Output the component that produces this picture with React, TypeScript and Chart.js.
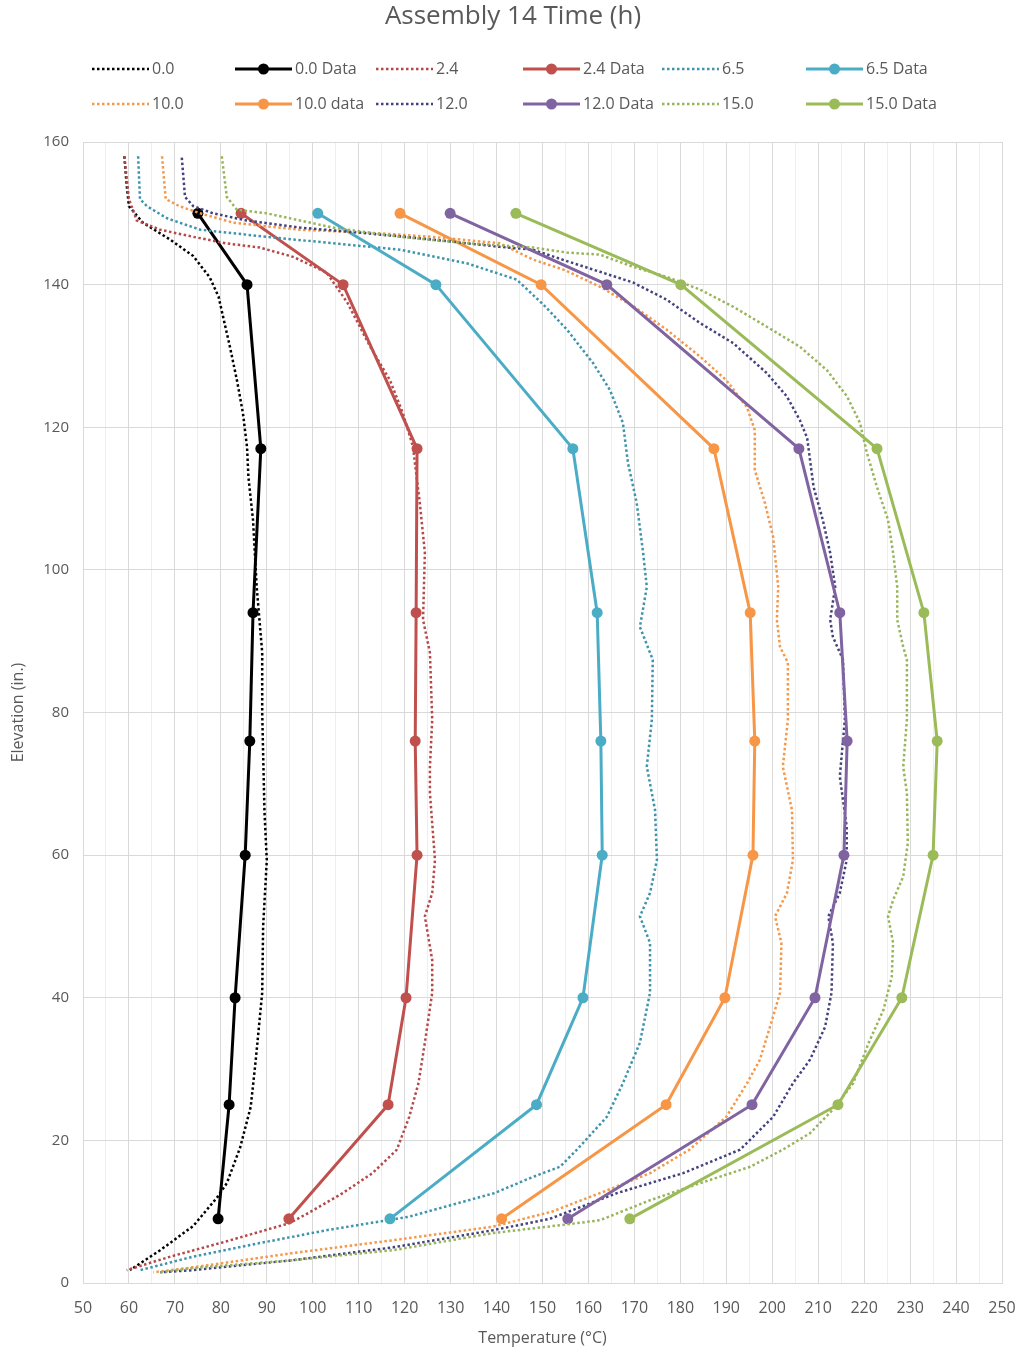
import React, { useEffect, useRef } from 'react';
import { Chart, registerables } from 'chart.js';

Chart.register(...registerables);

// ---------- Text ----------
const chartTitle = 'Assembly 14 Time (h)';
const xAxisTitle = 'Temperature (°C)';
const yAxisTitle = 'Elevation (in.)';

// ---------- Axis ranges / ticks ----------
const xMin = 50;
const xMax = 250;
const xStep = 5;
const xLabelEvery = 10;
const yMin = 0;
const yMax = 160;
const yStep = 20;

// ---------- Measured data (markers) ----------
const dataElevations = [150, 140, 117, 94, 76, 60, 40, 25, 9];
const data00 = [75.0, 85.7, 88.7, 87.0, 86.3, 85.3, 83.1, 81.8, 79.4];
const data24 = [84.4, 106.6, 122.7, 122.5, 122.3, 122.7, 120.3, 116.4, 94.8];
const data65 = [101.1, 126.8, 156.6, 161.9, 162.7, 163.0, 158.8, 148.7, 116.8];
const data100 = [119.0, 149.7, 187.3, 195.2, 196.2, 195.8, 189.7, 176.9, 141.1];
const data120 = [129.9, 164.0, 205.8, 214.7, 216.3, 215.6, 209.3, 195.6, 155.5];
const data150 = [144.2, 180.1, 222.8, 233.0, 235.9, 235.0, 228.2, 214.3, 169.0];

// ---------- Model profiles (dotted) ----------
const model00Elev = [158, 154, 151, 148.7, 146.3, 144, 141, 138.3, 134.6, 131.8, 126.6, 122, 117.2, 113, 107, 97.6, 88.4, 80, 74.3, 66, 59.3, 50, 40.7, 31.3, 24.7, 19, 14, 12, 8, 4.6, 1.8];
const model00Temp = [59, 59.5, 60, 63, 69, 74, 77.6, 79.5, 80.8, 81.8, 83.5, 84.8, 85.7, 86, 87, 87.8, 89, 89, 89.2, 89.5, 90, 89.2, 89, 87.6, 86.5, 84.2, 81.3, 79.2, 74, 66.8, 60.2];

const model24Elev = [158, 152, 149, 147.7, 146.7, 145.8, 145.2, 143.9, 141.7, 137.5, 131.3, 126.6, 122, 117.3, 109.4, 102.4, 93, 88.4, 79, 72.4, 68.7, 59.3, 54.7, 51.4, 45.3, 40.7, 33.7, 28, 23.3, 18.7, 15.4, 12.6, 9.8, 8.4, 5.8, 3.7, 1.8];
const model24Temp = [59, 60, 61.7, 66.8, 74, 81, 88.5, 95.7, 103, 107.5, 112.5, 116.8, 119.6, 121.8, 123.3, 124.4, 124, 125.5, 126, 125.5, 125.5, 126.6, 126, 124.4, 126, 126, 124.4, 123, 121, 118.3, 113, 106.5, 99, 95, 81, 69, 59.5];

const model65Elev = [158, 152, 151, 149.3, 147.7, 146.7, 145.8, 144.9, 143, 140.7, 137, 133.7, 129, 125.2, 120.6, 115, 109.4, 102.4, 97.6, 92, 87.4, 79, 72.4, 66.3, 59.3, 54.7, 51.4, 47.7, 40.7, 33.7, 28, 23.3, 18.7, 16.3, 14.9, 12.6, 9.3, 7.4, 5.6, 3.7, 1.8];
const model65Temp = [62, 62.4, 63.9, 68.3, 75.5, 90, 104.4, 119, 133.5, 144.4, 150.5, 155.3, 161, 164.7, 167.5, 168.6, 170.5, 171.9, 172.7, 171.2, 174, 173.8, 172.7, 174.5, 174.9, 173.4, 171.2, 173.4, 173.4, 171.2, 167.5, 164, 157.5, 153.8, 148, 139.5, 121, 103, 88.5, 74, 62.4];

const model100Elev = [158, 152, 151, 150, 148.7, 147.7, 147.3, 146.7, 145.8, 143.5, 142, 139.7, 137, 133.7, 129.9, 126.6, 122.8, 119.6, 114, 109.4, 104.6, 97.6, 93, 89.2, 87, 79, 72.4, 66.3, 59.3, 54.7, 51.4, 47.7, 40.7, 35.9, 31.3, 28, 23.3, 18.7, 15.4, 12.6, 10, 7.9, 6, 4.2, 2.2, 1.5];
const model100Temp = [67.2, 68, 71, 75.5, 82.6, 97, 111.8, 126, 140.7, 148, 155, 162.5, 169.7, 177, 184.3, 190, 194.5, 196.2, 196.2, 198.4, 200.2, 201.3, 201, 201.7, 203.4, 203.4, 202.3, 204.3, 204.5, 203.2, 200.6, 202, 201.7, 199.5, 197.3, 194.5, 190, 182, 173.4, 162.5, 152, 139.2, 117.5, 95.7, 74, 65.3];

const model120Elev = [157.8, 152.3, 151, 150, 149, 148, 147.2, 146.3, 145.3, 144.9, 143.3, 141.8, 140.3, 137.9, 134.6, 131.8, 127.6, 124.3, 121, 118.5, 111.6, 107, 102.4, 97.6, 93, 90.6, 87.4, 79, 71, 64, 59.3, 54.7, 51.4, 47.7, 40.7, 35.9, 31.3, 28, 23.3, 18.7, 15.4, 12.6, 9, 7.4, 5, 3.2, 1.8, 1.5];
const model120Temp = [71.5, 72.2, 74, 78.3, 85.6, 97.2, 111.8, 126.2, 140.7, 147.9, 155.3, 162.5, 169.7, 177, 184.3, 191.5, 198.8, 203.2, 206, 207.6, 209, 211, 212.6, 213.7, 212.6, 213.2, 215.4, 215.8, 214.7, 216.2, 216.2, 214.7, 212.2, 213.2, 212.9, 211.5, 208.2, 204.5, 200.2, 193, 180.6, 166.2, 151.6, 139.2, 117.5, 95.7, 74, 66.8];

const model150Elev = [158, 152.3, 150.5, 150, 148, 146.7, 145.8, 145.2, 144.5, 144.2, 142.5, 141.1, 139.3, 136.9, 134.1, 131.3, 128, 124.3, 120.6, 116.4, 111.6, 107, 102.4, 97.6, 93, 89.2, 87.4, 79, 72.4, 68.7, 61.7, 57, 53.7, 51.4, 47.7, 42.9, 38.3, 33.7, 28, 24.3, 21, 18.7, 16.3, 14, 11.6, 8.8, 8.1, 7, 4.6, 3.2, 2.1, 1.5];
const model150Temp = [80.2, 81.3, 83.5, 90, 104.4, 119, 133.6, 147.9, 155.3, 162.5, 169.7, 177, 184.3, 191.5, 198.8, 206, 211.9, 216.3, 219.1, 220.6, 222.8, 225.2, 226.3, 227.2, 227.2, 228.5, 229.3, 229.3, 228.5, 229.3, 229.5, 228.5, 226.3, 225.2, 226.3, 226, 224.2, 221, 217.6, 213.2, 208.2, 202.3, 195.2, 184.3, 173.4, 162.5, 153.8, 139.2, 117.5, 95.7, 74, 66.8];

// ---------- Series labels & colours ----------
const seriesLabels = ['0.0', '0.0 Data', '2.4', '2.4 Data', '6.5', '6.5 Data', '10.0', '10.0 data', '12.0', '12.0 Data', '15.0', '15.0 Data'];
const modelColors = ['#000000', '#B5494A', '#3E94AC', '#F4984A', '#44427E', '#98B55A'];
const dataColors = ['#000000', '#C0504D', '#4BACC6', '#F79646', '#8064A2', '#9BBB59'];

const FONT = "'Open Sans', 'DejaVu Sans', sans-serif";
const TEXT_COLOR = '#595959';

function pts(xs: number[], ys: number[]) {
  return xs.map((x, i) => ({ x, y: ys[i] }));
}

const modelSets = [
  [model00Temp, model00Elev],
  [model24Temp, model24Elev],
  [model65Temp, model65Elev],
  [model100Temp, model100Elev],
  [model120Temp, model120Elev],
  [model150Temp, model150Elev],
];
const dataSets = [data00, data24, data65, data100, data120, data150];

// legend layout (columns / rows in px)
const legendCols = [92, 235, 376, 523, 662, 806];
const legendRows = [69, 104];
const legendSampleW = 57;

const legendPlugin = {
  id: 'excelLegend',
  afterDraw(chart: any) {
    const ctx = chart.ctx;
    const dsets = chart.data.datasets;
    ctx.save();
    dsets.forEach((ds: any, i: number) => {
      const row = Math.floor(i / 6);
      const col = i % 6;
      const x0 = legendCols[col];
      const y = legendRows[row];
      ctx.save();
      ctx.strokeStyle = ds.borderColor;
      ctx.lineWidth = ds.borderWidth;
      ctx.setLineDash(ds.borderDash || []);
      ctx.beginPath();
      ctx.moveTo(x0, y);
      ctx.lineTo(x0 + legendSampleW, y);
      ctx.stroke();
      ctx.setLineDash([]);
      if (ds.pointRadius > 0) {
        ctx.fillStyle = ds.pointBackgroundColor;
        ctx.beginPath();
        ctx.arc(x0 + legendSampleW / 2, y, ds.pointRadius, 0, Math.PI * 2);
        ctx.fill();
      }
      ctx.restore();
      ctx.fillStyle = TEXT_COLOR;
      ctx.font = `16px ${FONT}`;
      ctx.textBaseline = 'middle';
      ctx.textAlign = 'left';
      ctx.fillText(ds.label, x0 + legendSampleW + 3, y);
    });
    ctx.restore();
  },
};

export default function App() {
  const canvasRef = useRef<HTMLCanvasElement | null>(null);

  useEffect(() => {
    if (!canvasRef.current) return;
    const datasets: any[] = [];
    for (let k = 0; k < 6; k++) {
      const [mt, me] = modelSets[k];
      datasets.push({
        label: seriesLabels[2 * k],
        data: pts(mt, me),
        showLine: true,
        borderColor: modelColors[k],
        backgroundColor: modelColors[k],
        borderWidth: 2.5,
        borderDash: [2.5, 2.5],
        pointRadius: 0,
        pointHoverRadius: 0,
        tension: 0,
        fill: false,
        order: 12 - 2 * k,
      });
      datasets.push({
        label: seriesLabels[2 * k + 1],
        data: pts(dataSets[k], dataElevations),
        showLine: true,
        borderColor: dataColors[k],
        backgroundColor: dataColors[k],
        pointBackgroundColor: dataColors[k],
        pointBorderColor: dataColors[k],
        borderWidth: 3,
        pointRadius: 5.5,
        pointBorderWidth: 0,
        tension: 0,
        fill: false,
        order: 11 - 2 * k,
      });
    }

    const chart = new Chart(canvasRef.current, {
      type: 'scatter',
      data: { datasets },
      options: {
        animation: false,
        responsive: false,
        maintainAspectRatio: false,
        layout: { padding: { left: 0, right: 0, top: 0, bottom: 0 } },
        plugins: {
          legend: { display: false },
          tooltip: { enabled: false },
          title: {
            display: true,
            text: chartTitle,
            color: TEXT_COLOR,
            font: { family: FONT, size: 26, weight: 'normal' },
            padding: { top: 1, bottom: 109.8 },
          },
        },
        scales: {
          x: {
            type: 'linear',
            min: xMin,
            max: xMax,
            afterFit: (s: any) => {
              s.height = 68;
              s.paddingRight = 24;
              s.paddingLeft = 0;
            },
            ticks: {
              stepSize: xStep,
              autoSkip: false,
              maxRotation: 0,
              color: TEXT_COLOR,
              font: { family: FONT, size: 16 },
              padding: 16,
              callback: (v: any) => (Number(v) % xLabelEvery === 0 ? String(v) : ''),
            },
            grid: {
              drawTicks: false,
              color: (c: any) => (c.tick && c.tick.value % xLabelEvery === 0 ? '#d9d9d9' : '#eeeeee'),
              lineWidth: 1,
            },
            border: { color: '#d9d9d9' },
            title: {
              display: true,
              text: xAxisTitle,
              color: TEXT_COLOR,
              font: { family: FONT, size: 16 },
              padding: { top: 0, bottom: 3 },
            },
          },
          y: {
            type: 'linear',
            min: yMin,
            max: yMax,
            afterFit: (s: any) => { s.width = 83; },
            ticks: {
              stepSize: yStep,
              color: TEXT_COLOR,
              font: { family: FONT, size: 15 },
              padding: 14,
            },
            grid: { drawTicks: false, color: '#d9d9d9', lineWidth: 1 },
            border: { color: '#d9d9d9' },
            title: {
              display: true,
              text: yAxisTitle,
              color: TEXT_COLOR,
              font: { family: FONT, size: 16 },
              padding: { top: 9, bottom: 0 },
            },
          },
        },
      } as any,
      plugins: [legendPlugin],
    });
    return () => chart.destroy();
  }, []);

  return (
    <div style={{ position: 'absolute', left: 0, top: 0, width: 1026, height: 1351, background: '#ffffff' }}>
      <canvas ref={canvasRef} width={1026} height={1351} style={{ display: 'block' }} />
    </div>
  );
}
